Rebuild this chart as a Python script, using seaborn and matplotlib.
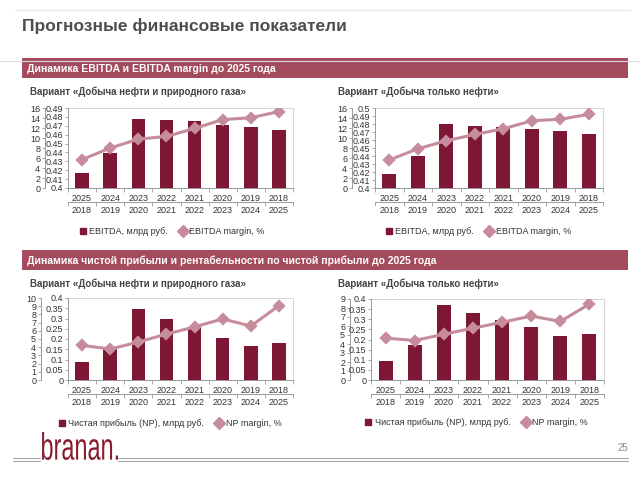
import numpy as np
import matplotlib
matplotlib.use("Agg")
import matplotlib.pyplot as plt
import seaborn as sns
from matplotlib.lines import Line2D
from matplotlib.patches import Rectangle, PathPatch
from matplotlib.textpath import TextPath
from matplotlib.font_manager import FontProperties
from matplotlib.transforms import Affine2D

sns.set_style("white")
plt.rcParams['font.family'] = ['Liberation Sans', 'DejaVu Sans']
NARROW = ['Liberation Sans Narrow', 'Liberation Sans', 'DejaVu Sans']

# data
YEARS = ['2018', '2019', '2020', '2021', '2022', '2023', '2024', '2025']
YEARS_TOP = YEARS[::-1]

EBITDA_GAS = [3.0, 7.1, 13.9, 13.6, 13.4, 12.7, 12.2, 11.6]
MARGIN_GAS = [0.432, 0.445, 0.455, 0.458, 0.467, 0.477, 0.479, 0.486]
EBITDA_OIL = [2.8, 6.5, 12.8, 12.4, 12.2, 11.9, 11.4, 10.9]
MARGIN_OIL = [0.435, 0.449, 0.459, 0.467, 0.474, 0.484, 0.486, 0.492]
NP_GAS = [2.2, 4.0, 8.6, 7.5, 6.5, 5.1, 4.1, 4.5]
NPM_GAS = [0.169, 0.151, 0.185, 0.224, 0.259, 0.298, 0.263, 0.363]
NP_OIL = [2.1, 3.9, 8.3, 7.5, 6.7, 5.9, 4.9, 5.1]
NPM_OIL = [0.207, 0.195, 0.226, 0.256, 0.285, 0.316, 0.289, 0.375]

TITLE = "Прогнозные финансовые показатели"
BANNER1 = "Динамика EBITDA и EBITDA margin до 2025 года"
BANNER2 = "Динамика чистой прибыли и рентабельности по чистой прибыли до 2025 года"
SUB_GAS = "Вариант «Добыча нефти и природного газа»"
SUB_OIL = "Вариант «Добыча только нефти»"
LEG_EBITDA = ["EBITDA, млрд руб.", "EBITDA margin, %"]
LEG_NP = ["Чистая прибыль (NP), млрд руб.", "NP margin, %"]

BAR_C = '#7d1734'
LINE_C = '#c68c9c'
BANNER_C = '#a44b5d'
W, H = 640, 480

fig = plt.figure(figsize=(6.4, 4.8), dpi=100)


def fx(x):
    return x / W


def fy(y):
    return 1 - y / H


def chart(box, bars, margin, lim1, step1, lim2, step2, offset, labels, legx, legy):
    l, t, r, b = box
    ax = fig.add_axes([fx(l), fy(b), fx(r - l), (b - t) / H])
    sns.barplot(x=YEARS, y=bars, color=BAR_C, saturation=1, width=0.48,
                linewidth=0, ax=ax)
    ax2 = ax.twinx()
    sns.pointplot(x=YEARS, y=margin, color=LINE_C, markers='D', markersize=5.5,
                  linewidth=2.2, ax=ax2)

    # primary axis: spine pushed left, labels outside
    ax.spines['left'].set_position(('outward', offset * 0.72))
    ax.yaxis.tick_left()
    ax.set_ylim(*lim1)
    t1 = np.arange(lim1[0], lim1[1] + step1 / 2, step1)
    ax.set_yticks(t1)
    ax.set_yticklabels([f'{v:g}' for v in t1], family=NARROW, fontsize=6.5, color='#333')
    for s in ['top', 'right']:
        ax.spines[s].set_color('#d4d4d4')
        ax.spines[s].set_linewidth(0.7)
    for s in ['left', 'bottom']:
        ax.spines[s].set_color('#999')
        ax.spines[s].set_linewidth(0.7)
    ax.tick_params(axis='y', direction='out', length=2.5, width=0.6, color='#999', pad=1, labelsize=6.5)

    # secondary axis: also on the left, at the plot edge
    ax2.yaxis.tick_left()
    ax2.set_ylim(*lim2)
    t2 = np.round(np.arange(lim2[0], lim2[1] + step2 / 2, step2), 3)
    ax2.set_yticks(t2)
    ax2.set_yticklabels([f'{v:g}' for v in t2], family=NARROW, fontsize=6.5, color='#333')
    ax2.tick_params(axis='y', direction='out', length=2.5, width=0.6, color='#999', pad=1, labelsize=6.5)
    for s in ['top', 'right', 'bottom']:
        ax2.spines[s].set_visible(False)
    ax2.spines['left'].set_color('#999')
    ax2.spines['left'].set_linewidth(0.7)
    ax.set_ylabel('')
    ax2.set_ylabel('')

    # two-row category axis
    ax.set_xlim(-0.5, 7.5)
    ax.set_xticks(np.arange(-0.5, 8, 1))
    ax.set_xticklabels([])
    ax.set_xticks(range(8), labels=YEARS_TOP, minor=True)
    ax.tick_params(axis='x', which='major', direction='out', length=3, width=0.6, color='#999', bottom=True)
    ax.tick_params(axis='x', which='minor', length=0, pad=4, labelsize=6.5, labelcolor='#333', bottom=True)
    ax.set_xlabel('')

    sec = ax.secondary_xaxis(-14 / (b - t))
    sec.set_xticks(np.arange(-0.5, 8, 1), labels=[''] * 9)
    sec.set_xticks(range(8), labels=YEARS, minor=True)
    sec.tick_params(axis='x', which='major', direction='out', length=3, width=0.6, color='#999')
    sec.tick_params(axis='x', which='minor', length=0, pad=3, labelsize=6.5, labelcolor='#333')
    sec.spines['bottom'].set_color('#999')
    sec.spines['bottom'].set_linewidth(0.7)

    handles = [Line2D([], [], marker='s', color=BAR_C, linestyle='none', markersize=5),
               Line2D([], [], marker='D', color=LINE_C, linestyle='-', lw=2, markersize=6.5)]
    ax.legend(handles, labels, loc='center', bbox_to_anchor=(legx, legy), ncol=2,
              frameon=False, fontsize=6.5, handlelength=1.0, handletextpad=0.2,
              columnspacing=1.2, labelcolor='#333')
    return ax


chart((68, 108, 293, 188), EBITDA_GAS, MARGIN_GAS, (0, 16), 2, (0.4, 0.49), 0.01, 23, LEG_EBITDA, 0.46, -0.55)
chart((375, 108, 603, 188), EBITDA_OIL, MARGIN_OIL, (0, 16), 2, (0.4, 0.5), 0.01, 23, LEG_EBITDA, 0.45, -0.55)
chart((68, 298, 293, 380), NP_GAS, NPM_GAS, (0, 10), 1, (0, 0.4), 0.05, 27, LEG_NP, 0.45, -0.53)
chart((371, 299, 604, 380), NP_OIL, NPM_OIL, (0, 9), 1, (0, 0.4), 0.05, 21, LEG_NP, 0.45, -0.53)

# slide decoration
fig.add_artist(Line2D([fx(15), fx(630)], [fy(10), fy(10)], color='#e6e6e6', lw=0.8))
fig.add_artist(Line2D([fx(0), fx(640)], [fy(61), fy(61)], color='#dcdcdc', lw=0.8))
for yb in (58, 250):
    fig.add_artist(Rectangle((fx(22), fy(yb + 20)), fx(606), 20 / H, transform=fig.transFigure,
                             color=BANNER_C, lw=0))
fig.text(fx(22), fy(26), TITLE, fontsize=12.5, fontweight='bold', color='#4d4d4d', va='center')
fig.text(fx(27), fy(68.5), BANNER1, fontsize=7.5, fontweight='bold', color='white', va='center')
fig.text(fx(27), fy(260.5), BANNER2, fontsize=7.5, fontweight='bold', color='white', va='center')
for y in (92, 284):
    fig.text(fx(30), fy(y), SUB_GAS, fontsize=7, fontweight='bold', color='#454545', va='center')
    fig.text(fx(338), fy(y), SUB_OIL, fontsize=7, fontweight='bold', color='#454545', va='center')

# logo
tp = TextPath((0, 0), "branan.", size=1, prop=FontProperties(family=NARROW))
ext = tp.get_extents()
tr = (Affine2D().translate(-ext.x0, -ext.y0).scale(76 / ext.width, 28 / ext.height)
      .translate(42, H - 460).scale(1 / W, 1 / H) + fig.transFigure)
fig.add_artist(PathPatch(tp, transform=tr, color='#8a1c30', lw=0))
for y in (458, 461):
    fig.add_artist(Line2D([fx(13), fx(40)], [fy(y), fy(y)], color='#a8a8a8', lw=0.8))
    fig.add_artist(Line2D([fx(118), fx(628)], [fy(y), fy(y)], color='#a8a8a8', lw=0.8))
fig.text(fx(628), fy(448), "25", fontsize=7, color='#888', ha='right', va='center')

fig.savefig("out.png", dpi=100)
